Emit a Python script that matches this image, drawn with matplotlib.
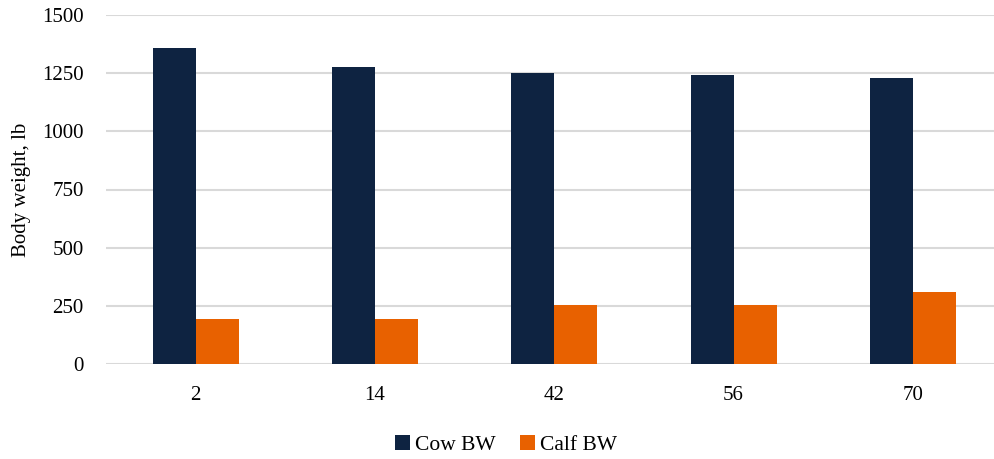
import numpy as np
import matplotlib.pyplot as plt

plt.rcParams['font.family'] = ['Liberation Serif', 'DejaVu Serif']

days = ['2', '14', '42', '56', '70']
cow_bw = [1358, 1276, 1252, 1243, 1228]
calf_bw = [194, 194, 255, 255, 310]

navy = '#0e2341'
orange = '#e86100'

fig = plt.figure(figsize=(9.94, 4.59), dpi=100)
# axes spans from the y labels out to the right edge of the image
ax = fig.add_axes([106 / 994, (459 - 364) / 459, (994 - 106) / 994, 349 / 459])

xpos = np.arange(len(days))
width = 0.24
ax.bar(xpos - width / 2, cow_bw, width=width, color=navy, label='Cow BW', zorder=3)
ax.bar(xpos + width / 2, calf_bw, width=width, color=orange, label='Calf BW', zorder=3)

ax.set_xlim(-0.5, (994 - 106) / 179.3 - 0.5)
ax.set_ylim(0, 1500)
ax.set_yticks(np.arange(0, 1501, 250))
ax.set_xticks(xpos)
ax.set_xticklabels(days)
ax.grid(axis='y', color='#d9d9d9', linewidth=1.5, zorder=0)
for side in ['top', 'right', 'left', 'bottom']:
    ax.spines[side].set_visible(False)
ax.tick_params(axis='both', length=0, labelsize=15, colors='black')
ax.tick_params(axis='y', pad=16)
ax.tick_params(axis='x', pad=16)
ax.set_ylabel('Body weight, lb', fontsize=15, labelpad=8)

fig.legend(loc='center', bbox_to_anchor=(506 / 994, 14 / 459), ncol=2, frameon=False,
           fontsize=15.5, handlelength=0.7, handleheight=0.7, handletextpad=0.25,
           columnspacing=1.1)

fig.savefig('out.png', dpi=100)
